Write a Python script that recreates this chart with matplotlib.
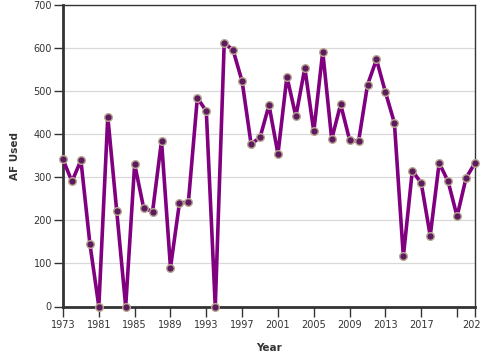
import matplotlib
matplotlib.use("Agg")
import matplotlib.pyplot as plt

years = [1973, 1975, 1977, 1979] + list(range(1981, 2024))
af_used = [341, 290, 339, 146, 0, 440, 221, 0, 330, 229,
           220, 384, 90, 240, 242, 484, 453, 0, 612, 594,
           522, 377, 392, 467, 354, 533, 441, 553, 406, 591,
           388, 469, 386, 383, 514, 573, 497, 426, 116, 315,
           286, 164, 333, 290, 209, 298, 333]
y_ticks = [0, 100, 200, 300, 400, 500, 600, 700]

fig = plt.figure(figsize=(4.8, 3.6), dpi=100)
ax = fig.add_axes([63/480, 1-306.5/360, (475-63)/480, (306.5-4.7)/360])

idx = list(range(len(years)))
ax.plot(idx, af_used, color="#800080", lw=2.6, zorder=3, solid_joinstyle="round")
ax.plot(idx, af_used, ls="none", marker="o", ms=5.5, mfc="#5e1a5e",
        mec="#b8a890", mew=1.0, zorder=4, clip_on=False)

ax.set_xlim(0, len(years)-1)
ax.set_ylim(0, 700)
ax.set_yticks(y_ticks)
ax.set_yticklabels([str(v) for v in y_ticks])

tick_pos = list(range(0, len(years), 4)) + [len(years)-1]
tick_lab = [str(years[i]) for i in range(0, len(years), 4)]
tick_lab[-1] = ""
tick_lab.append(str(years[-1]))
ax.set_xticks(tick_pos)
ax.set_xticklabels(tick_lab)

ax.grid(axis="y", color="#d9d9d9", lw=0.9, zorder=0)
ax.set_axisbelow(True)

for s in ["left", "bottom"]:
    ax.spines[s].set_linewidth(2.0)
    ax.spines[s].set_color("#333333")
for s in ["top", "right"]:
    ax.spines[s].set_linewidth(1.0)
    ax.spines[s].set_color("#333333")

ax.tick_params(axis="y", length=6.5, width=1, color="#333333", labelsize=7, pad=1.5, labelcolor="#333333")
ax.tick_params(axis="x", length=7, width=1, color="#333333", labelsize=7, pad=2.5, labelcolor="#333333")

ax.set_xlabel("Year", fontsize=7.5, fontweight="bold", color="#333333")
ax.set_ylabel("AF Used", fontsize=7.5, fontweight="bold", color="#333333")
ax.xaxis.set_label_coords(0.5, -0.122)
ax.yaxis.set_label_coords(-0.104, 0.5)

fig.savefig("out.png", dpi=100)
